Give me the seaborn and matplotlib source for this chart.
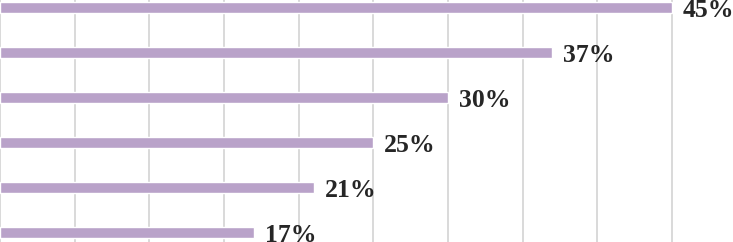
import seaborn as sns
import matplotlib.pyplot as plt
import numpy as np
import pandas as pd

# data
categories = ["A", "B", "C", "D", "E", "F"]
values = [45, 37, 30, 25, 21, 17]
labels = ["45%", "37%", "30%", "25%", "21%", "17%"]

df = pd.DataFrame({"category": categories, "value": values})

sns.set_style("white")
fig = plt.figure(figsize=(7.33, 2.42), dpi=100)
ax = fig.add_axes([0, 0, 1, 1])

sns.barplot(data=df, x="value", y="category", orient="h", color="#b9a2c9",
            saturation=1, width=0.23, ax=ax, zorder=3)

# gridlines every 5%
ax.set_xticks(np.arange(0, 50, 5))
ax.xaxis.grid(True, color="#d9d9d9", linewidth=1.4, zorder=0)
ax.set_axisbelow(True)
ax.set_xlim(0, 49.1)
ax.set_ylim(5.211, -0.167)

for i, (v, lab) in enumerate(zip(values, labels)):
    ax.annotate(lab, (v, i), xytext=(8, -2), textcoords="offset points",
                ha="left", va="center", fontsize=18.5, fontweight="bold",
                family="Liberation Serif", color="#262626")

for s in ax.spines.values():
    s.set_visible(False)
ax.set_xlabel("")
ax.set_ylabel("")
ax.tick_params(left=False, bottom=False, labelleft=False, labelbottom=False)

fig.savefig("out.png", dpi=100)
